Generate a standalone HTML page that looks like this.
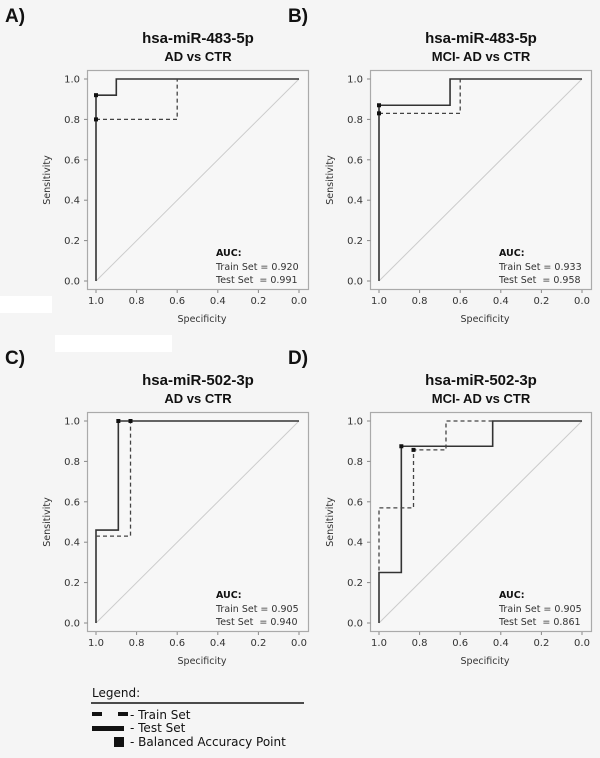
<!DOCTYPE html>
<html><head><meta charset="utf-8">
<style>
html,body{margin:0;padding:0;background:#f5f5f5;}
body{width:600px;height:758px;position:relative;overflow:hidden;font-family:"DejaVu Sans","Liberation Sans",sans-serif;}
svg{position:absolute;left:0;top:0;}
</style></head>
<body>
<svg id="fig" width="600" height="758" viewBox="0 0 600 758">
  <rect x="0" y="296" width="52" height="17" fill="#fff"/>
  <rect x="55" y="335" width="117" height="17" fill="#fff"/>
  <g font-size="12" fill="#111">
    <text x="92" y="697">Legend:</text>
    <line x1="91" y1="703" x2="304" y2="703" stroke="#111" stroke-width="1.5"/>
    <rect x="92" y="712" width="10" height="4" fill="#111"/>
    <rect x="118" y="712" width="10" height="4" fill="#111"/>
    <text x="130" y="719">- Train Set</text>
    <rect x="92" y="726" width="32" height="5" fill="#111"/>
    <text x="130" y="732">- Test Set</text>
    <rect x="114" y="737" width="10" height="10" fill="#111"/>
    <text x="130" y="746">- Balanced Accuracy Point</text>
  </g>
</svg>
<script>
const panelLabels = ["A)", "B)", "C)", "D)"];
const titles1 = ["hsa-miR-483-5p", "hsa-miR-483-5p", "hsa-miR-502-3p", "hsa-miR-502-3p"];
const titles2 = ["AD vs CTR", "MCI- AD  vs CTR", "AD vs CTR", "MCI- AD  vs CTR"];
const trainAUC = ["0.920", "0.933", "0.905", "0.905"];
const testAUC = ["0.991", "0.958", "0.940", "0.861"];
const ticks = [0, 0.2, 0.4, 0.6, 0.8, 1.0];
const tickLabels = ["0.0", "0.2", "0.4", "0.6", "0.8", "1.0"];
// solid curves: [specificity, sensitivity]
const solidA = [[1,0],[1,0.92],[0.9,0.92],[0.9,1],[0,1]];
const solidB = [[1,0],[1,0.87],[0.65,0.87],[0.65,1],[0,1]];
const solidC = [[1,0],[1,0.46],[0.89,0.46],[0.89,1],[0,1]];
const solidD = [[1,0],[1,0.25],[0.89,0.25],[0.89,0.875],[0.44,0.875],[0.44,1],[0,1]];
// dashed curves
const dashA = [[1,0.8],[0.6,0.8],[0.6,1]];
const dashB = [[1,0.83],[0.6,0.83],[0.6,1]];
const dashC = [[1,0.43],[0.83,0.43],[0.83,1]];
const dashD = [[1,0.26],[1,0.57],[0.83,0.57],[0.83,0.857],[0.67,0.857],[0.67,1],[0.44,1]];
// balanced accuracy points
const pointsA = [[1,0.92],[1,0.8]];
const pointsB = [[1,0.87],[1,0.83]];
const pointsC = [[0.89,1],[0.83,1]];
const pointsD = [[0.89,0.875],[0.83,0.857]];

const solids = [solidA, solidB, solidC, solidD];
const dashes = [dashA, dashB, dashC, dashD];
const points = [pointsA, pointsB, pointsC, pointsD];
const offsets = [[0,0],[283,0],[0,342],[283,342]];
const NS = "http://www.w3.org/2000/svg";
const svg = document.getElementById("fig");
function mk(tag, attrs, parent){const e=document.createElementNS(NS,tag);for(const k in attrs)e.setAttribute(k,attrs[k]);parent.appendChild(e);return e;}

for (let p = 0; p < 4; p++) {
  const ox = offsets[p][0], oy = offsets[p][1];
  const xs = v => ox + 96 + (1 - v) * 203;
  const ys = v => oy + 281 - v * 202;
  const g = mk("g", {}, svg);
  
  
  const lab = mk("text", {x: ox + 5, y: oy + 22, "font-size": 19, "font-weight": "bold", fill: "#111", "font-family": "Liberation Sans, sans-serif"}, g);
  lab.textContent = panelLabels[p];
  
  
  const t1 = mk("text", {x: ox + 198, y: oy + 43, "font-size": 15, "font-weight": "bold", fill: "#111", "text-anchor": "middle", "font-family": "Liberation Sans, sans-serif"}, g);
  t1.textContent = titles1[p];
  
  
  const t2 = mk("text", {x: ox + 198, y: oy + 61, "font-size": 13, "font-weight": "bold", fill: "#111", "text-anchor": "middle", "font-family": "Liberation Sans, sans-serif"}, g);
  t2.textContent = titles2[p];
  
  
  const box = mk("rect", {x: ox + 87.5, y: oy + 70.5, width: 221, height: 219, fill: "#f7f7f7", stroke: "#aaa", "stroke-width": 1.2}, g);
  
  
  const diag = mk("line", {x1: xs(1), y1: ys(0), x2: xs(0), y2: ys(1), stroke: "#ccc", "stroke-width": 1}, g);
  
  
  for (let i = 0; i < ticks.length; i++) {
    mk("line", {x1: xs(ticks[i]), y1: oy + 290, x2: xs(ticks[i]), y2: oy + 293, stroke: "#888"}, g);
    const tx = mk("text", {x: xs(ticks[i]), y: oy + 304, "font-size": 10, fill: "#333", "text-anchor": "middle"}, g);
    tx.textContent = tickLabels[i];
    
    
    mk("line", {x1: ox + 84, y1: ys(ticks[i]), x2: ox + 87.5, y2: ys(ticks[i]), stroke: "#888"}, g);
    const ty = mk("text", {x: ox + 80, y: ys(ticks[i]) + 3.5, "font-size": 10, fill: "#333", "text-anchor": "end"}, g);
    ty.textContent = tickLabels[i];
    
    
  }
  const xt = mk("text", {x: ox + 202, y: oy + 322, "font-size": 9.5, fill: "#333", "text-anchor": "middle"}, g);
  xt.textContent = "Specificity";
  
  
  const yt = mk("text", {x: 0, y: 0, "font-size": 9.5, fill: "#333", "text-anchor": "middle", transform: "translate(" + (ox + 50) + "," + (oy + 180) + ") rotate(-90)"}, g);
  yt.textContent = "Sensitivity";
  
  
  const sp = mk("polyline", {points: solids[p].map(d => xs(d[0]) + "," + ys(d[1])).join(" "), fill: "none", stroke: "#333", "stroke-width": 1.6}, g);
  
  
  const dp = mk("polyline", {points: dashes[p].map(d => xs(d[0]) + "," + ys(d[1])).join(" "), fill: "none", stroke: "#444", "stroke-width": 1.3, "stroke-dasharray": "4,3"}, g);
  
  
  points[p].forEach(d => {
    const c = mk("rect", {x: xs(d[0]) - 2, y: ys(d[1]) - 2, width: 4, height: 4, fill: "#111"}, g);
    
    
  });
  const a0 = mk("text", {x: ox + 216, y: oy + 256, "font-size": 9.5, "font-weight": "bold", fill: "#111"}, g);
  a0.textContent = "AUC:";
  
  
  const a1 = mk("text", {x: ox + 216, y: oy + 270, "font-size": 9.5, fill: "#333"}, g);
  a1.textContent = "Train Set = " + trainAUC[p];
  
  
  const a2 = mk("text", {x: ox + 216, y: oy + 283, "font-size": 9.5, fill: "#333"}, g);
  a2.textContent = "Test Set  = " + testAUC[p];
  
  
  a2.setAttribute('xml:space', 'preserve');
  a2.style.whiteSpace = 'pre';
}
</script>
</body></html>
